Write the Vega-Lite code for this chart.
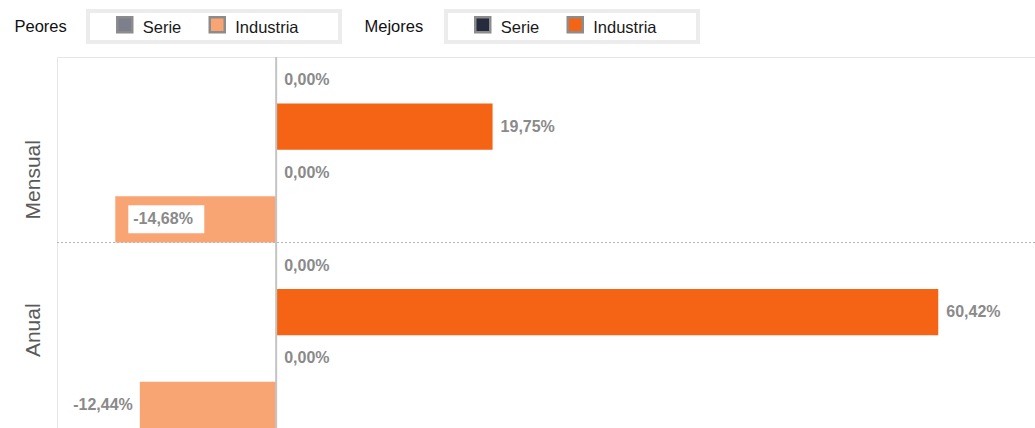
{
  "$schema": "https://vega.github.io/schema/vega-lite/v6.json",
  "width": 978,
  "height": 371,
  "autosize": "none",
  "padding": {"left": 57, "top": 57, "right": 0, "bottom": 0},
  "config": {
    "font": "Liberation Sans",
    "view": {"stroke": "#e6e6e6", "strokeWidth": 1},
    "legend": {
      "orient": "none",
      "direction": "horizontal",
      "titleOrient": "left",
      "titleFontSize": 16,
      "titleFontWeight": "normal",
      "titleBaseline": "middle",
      "titleAnchor": "middle",
      "labelFontSize": 16.5,
      "labelColor": "#1a1a1a",
      "labelOffset": 9,
      "columnPadding": 22.5,
      "padding": 4.5
    }
  },
  "data": {
    "values": [
      {"periodo": "Mensual", "grupo": "Mejores", "serie": "Serie", "valor": 0},
      {"periodo": "Mensual", "grupo": "Mejores", "serie": "Industria", "valor": 19.75},
      {"periodo": "Mensual", "grupo": "Peores", "serie": "Serie", "valor": 0},
      {"periodo": "Mensual", "grupo": "Peores", "serie": "Industria", "valor": -14.68},
      {"periodo": "Anual", "grupo": "Mejores", "serie": "Serie", "valor": 0},
      {"periodo": "Anual", "grupo": "Mejores", "serie": "Industria", "valor": 60.42},
      {"periodo": "Anual", "grupo": "Peores", "serie": "Serie", "valor": 0},
      {"periodo": "Anual", "grupo": "Peores", "serie": "Industria", "valor": -12.44}
    ]
  },
  "transform": [
    {"calculate": "datum.grupo + ' ' + datum.serie", "as": "clave"},
    {"calculate": "replace(replace(format(datum.valor, '.2f'), '.', ','), '\u2212', '-') + '%'", "as": "etiqueta"}
  ],
  "layer": [
    {
      "transform": [{"filter": "datum.grupo == 'Peores'"}],
      "mark": {"type": "bar"},
      "encoding": {
        "y": {
          "field": "periodo", "type": "nominal",
          "scale": {"domain": ["Mensual", "Anual"], "paddingInner": 0, "paddingOuter": 0},
          "axis": {
            "title": null, "domain": false, "ticks": false, "grid": false,
            "labelAngle": -90, "labelFontSize": 21, "labelColor": "#5a5a5a",
            "labelPadding": 14,
            "labelOffset": {"condition": {"test": "datum.value == 'Mensual'", "value": 30}, "value": -5}
          }
        },
        "yOffset": {
          "field": "clave", "type": "nominal",
          "scale": {"domain": ["Mejores Serie", "Mejores Industria", "Peores Serie", "Peores Industria"], "paddingInner": 0, "paddingOuter": 0}
        },
        "x": {"field": "valor", "type": "quantitative", "scale": {"domain": [-20, 69.25], "nice": false}, "axis": null},
        "color": {
          "field": "serie", "type": "nominal",
          "scale": {"domain": ["Serie", "Industria"], "range": ["#7d7f8c", "#f9a473"]},
          "legend": {
            "title": ".",
            "titleColor": "rgba(0,0,0,0)",
            "titlePadding": 18.25,
            "legendX": 31, "legendY": -46,
            "strokeColor": "#ececec",
            "symbolType": "M-1,-1H1V1H-1Z",
            "symbolSize": 225,
            "symbolStrokeColor": "#8c8c8c",
            "symbolStrokeWidth": 2.5,
            "symbolOpacity": 1,
            "labelExpr": "datum.label == 'Industria' ? 'Industria\u2800\u2800\u2800' : datum.label",
            "encode": {
              "legend": {"update": {"strokeWidth": {"value": 4}}},
              "labels": {"update": {"dy": {"value": 3}}}
            }
          }
        },
        "opacity": {
          "field": "grupo", "type": "nominal",
          "scale": {"type": "ordinal", "range": [1]},
          "legend": {
            "title": null, "legendX": -59, "legendY": -38, "padding": 0,
            "symbolType": "circle", "symbolSize": 0, "symbolOpacity": 0, "labelOffset": 0,
            "labelColor": "#111111",
            "encode": {"labels": {"update": {"dy": {"value": 2}}}}
          }
        }
      }
    },
    {
      "transform": [{"filter": "datum.grupo == 'Mejores'"}],
      "mark": {"type": "bar"},
      "encoding": {
        "y": {"field": "periodo", "type": "nominal"},
        "yOffset": {"field": "clave", "type": "nominal"},
        "x": {"field": "valor", "type": "quantitative"},
        "color": {
          "field": "serie", "type": "nominal",
          "scale": {"domain": ["Serie", "Industria"], "range": ["#262b3d", "#f56414"]},
          "legend": {
            "title": ".",
            "titleColor": "rgba(0,0,0,0)",
            "titlePadding": 18.25,
            "legendX": 389, "legendY": -46,
            "strokeColor": "#ececec",
            "symbolType": "M-1,-1H1V1H-1Z",
            "symbolSize": 225,
            "symbolStrokeColor": "#8c8c8c",
            "symbolStrokeWidth": 2.5,
            "symbolOpacity": 1,
            "labelExpr": "datum.label == 'Industria' ? 'Industria\u2800\u2800\u2800' : datum.label",
            "encode": {
              "legend": {"update": {"strokeWidth": {"value": 4}}},
              "labels": {"update": {"dy": {"value": 3}}}
            }
          }
        },
        "opacity": {
          "field": "grupo", "type": "nominal",
          "scale": {"type": "ordinal", "range": [1]},
          "legend": {
            "title": null, "legendX": 291, "legendY": -38, "padding": 0,
            "symbolType": "circle", "symbolSize": 0, "symbolOpacity": 0, "labelOffset": 0,
            "labelColor": "#111111",
            "encode": {"labels": {"update": {"dy": {"value": 2}}}}
          }
        }
      }
    },
    {
      "data": {"values": [{"periodo": "Anual"}]},
      "mark": {"type": "rule", "color": "#b5b5b5", "strokeDash": [2, 2], "strokeWidth": 1},
      "encoding": {
        "y": {"field": "periodo", "type": "nominal", "bandPosition": 0}
      }
    },
    {
      "data": {"values": [{"cero": 0}]},
      "mark": {"type": "rule", "color": "#c4c4c4", "strokeWidth": 2},
      "encoding": {
        "x": {"field": "cero", "type": "quantitative"}
      }
    },
    {
      "transform": [{"filter": "datum.valor >= 0"}],
      "mark": {"type": "text", "align": "left", "baseline": "middle", "dx": 8, "fontSize": 16, "fontWeight": "bold", "color": "#8a8a8a"},
      "encoding": {
        "y": {"field": "periodo", "type": "nominal"},
        "yOffset": {"field": "clave", "type": "nominal"},
        "x": {"field": "valor", "type": "quantitative"},
        "text": {"field": "etiqueta"}
      }
    },
    {
      "transform": [{"filter": "datum.valor < 0 && datum.valor > -14"}],
      "mark": {"type": "text", "align": "right", "baseline": "middle", "dx": -7, "fontSize": 16, "fontWeight": "bold", "color": "#8a8a8a"},
      "encoding": {
        "y": {"field": "periodo", "type": "nominal"},
        "yOffset": {"field": "clave", "type": "nominal"},
        "x": {"field": "valor", "type": "quantitative"},
        "text": {"field": "etiqueta"}
      }
    },
    {
      "transform": [{"filter": "datum.valor <= -14"}],
      "mark": {"type": "bar", "color": "#ffffff", "height": 28, "xOffset": 13, "x2Offset": 89},
      "encoding": {
        "y": {"field": "periodo", "type": "nominal"},
        "yOffset": {"field": "clave", "type": "nominal"},
        "x": {"field": "valor", "type": "quantitative"},
        "x2": {"field": "valor"}
      }
    },
    {
      "transform": [{"filter": "datum.valor <= -14"}],
      "mark": {"type": "text", "align": "left", "baseline": "middle", "dx": 18, "fontSize": 16, "fontWeight": "bold", "color": "#8a8a8a"},
      "encoding": {
        "y": {"field": "periodo", "type": "nominal"},
        "yOffset": {"field": "clave", "type": "nominal"},
        "x": {"field": "valor", "type": "quantitative"},
        "text": {"field": "etiqueta"}
      }
    }
  ],
  "resolve": {"scale": {"color": "independent", "opacity": "independent"}}
}
